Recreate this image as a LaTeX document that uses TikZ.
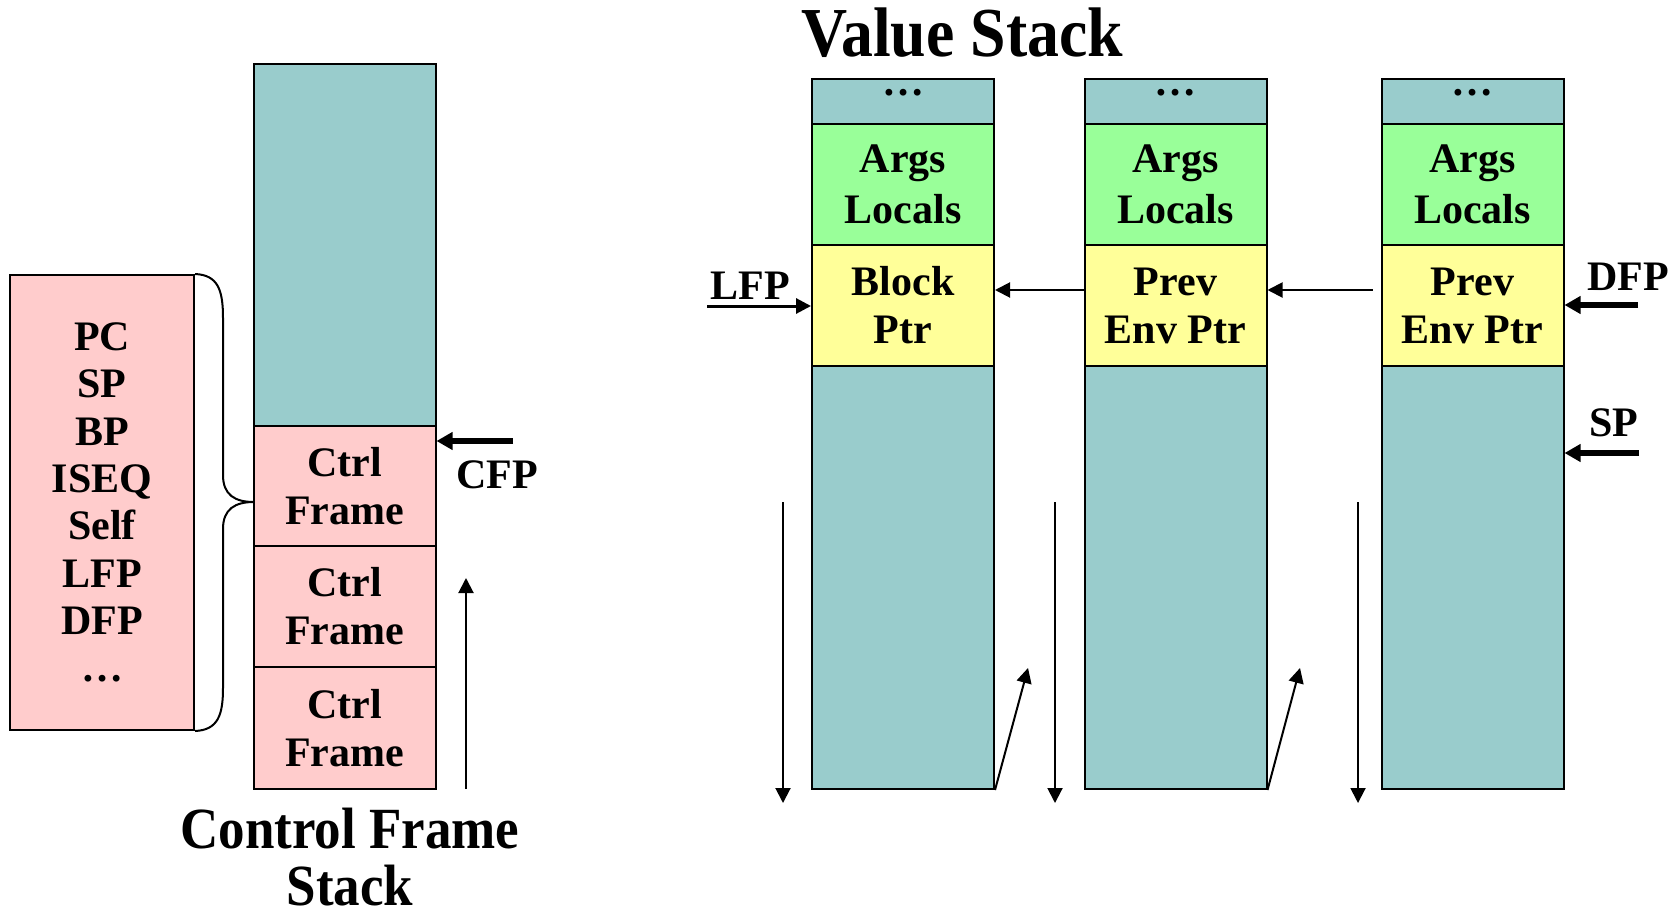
\documentclass[tikz,border=0pt]{standalone}
\usepackage{fontspec}
\setmainfont{Liberation Serif}
\usetikzlibrary{arrows.meta}
\definecolor{stackteal}{HTML}{99CCCC}
\definecolor{framepink}{HTML}{FFCCCC}
\definecolor{argsgreen}{HTML}{99FF99}
\definecolor{ptryellow}{HTML}{FFFF99}
\begin{document}
\begin{tikzpicture}[x=0.5pt,y=-0.5pt,
  box/.style={draw=black, line width=1pt, inner sep=0pt, align=center, font=\fontsize{21}{24}\selectfont\bfseries},
  col/.style={box, minimum width=91pt},
  lbl/.style={inner sep=0pt, font=\fontsize{21}{24}\selectfont\bfseries},
  thinarr/.style={line width=1pt, -{Triangle[length=7.5pt,width=7.5pt]}},
  midarr/.style={line width=1.5pt, -{Triangle[length=7.5pt,width=7.5pt]}},
  thickarr/.style={line width=2.6pt, -{Triangle[length=8pt,width=8.5pt]}},
]
\useasboundingbox (0,0) rectangle (1679,909);

% ---------- control frame stack ----------
\node[box, fill=framepink, minimum width=92pt, minimum height=227.5pt,
      font=\fontsize{21}{23.65}\selectfont\bfseries] (regs) at (102,502.5)
      {PC\\SP\\BP\\ISEQ\\Self\\LFP\\DFP\\…};

\node[col, fill=stackteal, minimum height=181pt] (cfree) at (344.5,245) {};
\node[col, fill=framepink, minimum height=60pt] (cf1) at (344.5,486) {Ctrl\\Frame};
\node[col, fill=framepink, minimum height=60.5pt] (cf2) at (344.5,606.5) {Ctrl\\Frame};
\node[col, fill=framepink, minimum height=61pt] (cf3) at (344.5,728) {Ctrl\\Frame};

\draw[line width=1pt] (regs.north east) .. controls (218,275) and (223,290) .. (223,318)
  -- (223,475) .. controls (223,495) and (235,502) .. (254,502)
  .. controls (235,502) and (223,509) .. (223,529)
  -- (223,688) .. controls (223,715) and (218,730) .. (regs.south east);

\coordinate (cfps) at (513,441);
\draw[thickarr] (cfps) -- (cfps -| cf1.east);
\node[lbl] (cfp) at (497,475) {CFP};

\coordinate (upa) at (466,789);
\coordinate (upb) at (466,578);
\draw[thinarr] (upa) -- (upb);

\node[inner sep=0pt, anchor=base, font=\fontsize{26.5}{25.5}\selectfont\bfseries] (cfst) at (350,905)
  {\scalebox{1}[1.1]{\vbox{\baselineskip=25.5pt\halign{\hfil#\hfil\cr Control Frame\cr Stack\cr}}}};

% ---------- value stack ----------
\node[inner sep=0pt, anchor=base, font=\fontsize{31.9}{36}\selectfont\bfseries] (vst) at (962,57)
  {\scalebox{1}[1.1]{Value Stack}};

\foreach \i/\cx/\txt in {1/903/{Block\\Ptr},2/1175.5/{Prev\\Env Ptr},3/1472.5/{Prev\\Env Ptr}}{
  \node[col, fill=stackteal, minimum height=22.5pt] (vd\i) at (\cx,101.5) {};
  \node[lbl] (vdt\i) at (\cx,93) {…};
  \node[col, fill=argsgreen, minimum height=60.5pt,
        font=\fontsize{21}{25.5}\selectfont\bfseries] (va\i) at (\cx,184.5) {Args\\Locals};
  \node[col, fill=ptryellow, minimum height=60.5pt] (vp\i) at (\cx,305.5) {\txt};
  \node[col, fill=stackteal, minimum height=211.5pt] (vt\i) at (\cx,577.5) {};
}

\coordinate (lfps) at (707,306);
\draw[midarr] (lfps) -- (lfps -| vp1.west);
\node[lbl] (lfp) at (750,286) {LFP};

\draw[thinarr] ([yshift=7.75pt]vp2.west) -- ([yshift=7.75pt]vp1.east);
\draw[thinarr] ([xshift=-4pt,yshift=7.75pt]vp3.west) -- ([yshift=7.75pt]vp2.east);

\coordinate (dfps) at (1638,305);
\draw[thickarr] (dfps) -- (dfps -| vp3.east);
\node[lbl] (dfp) at (1628,277) {DFP};

\coordinate (sps) at (1639,453);
\draw[thickarr] (sps) -- (sps -| vt3.east);
\node[lbl] (sp) at (1614,423) {SP};

\coordinate (dna1) at (783,502);  \coordinate (dnb1) at (783,803);
\coordinate (dna2) at (1055,502); \coordinate (dnb2) at (1055,803);
\coordinate (dna3) at (1358,502); \coordinate (dnb3) at (1358,803);
\draw[thinarr] (dna1) -- (dnb1);
\draw[thinarr] (dna2) -- (dnb2);
\draw[thinarr] (dna3) -- (dnb3);

\coordinate (dg1) at (1028,668);
\coordinate (dg2) at (1300,668);
\draw[thinarr] (vt1.south east) -- (dg1);
\draw[thinarr] (vt2.south east) -- (dg2);
\end{tikzpicture}
\end{document}
